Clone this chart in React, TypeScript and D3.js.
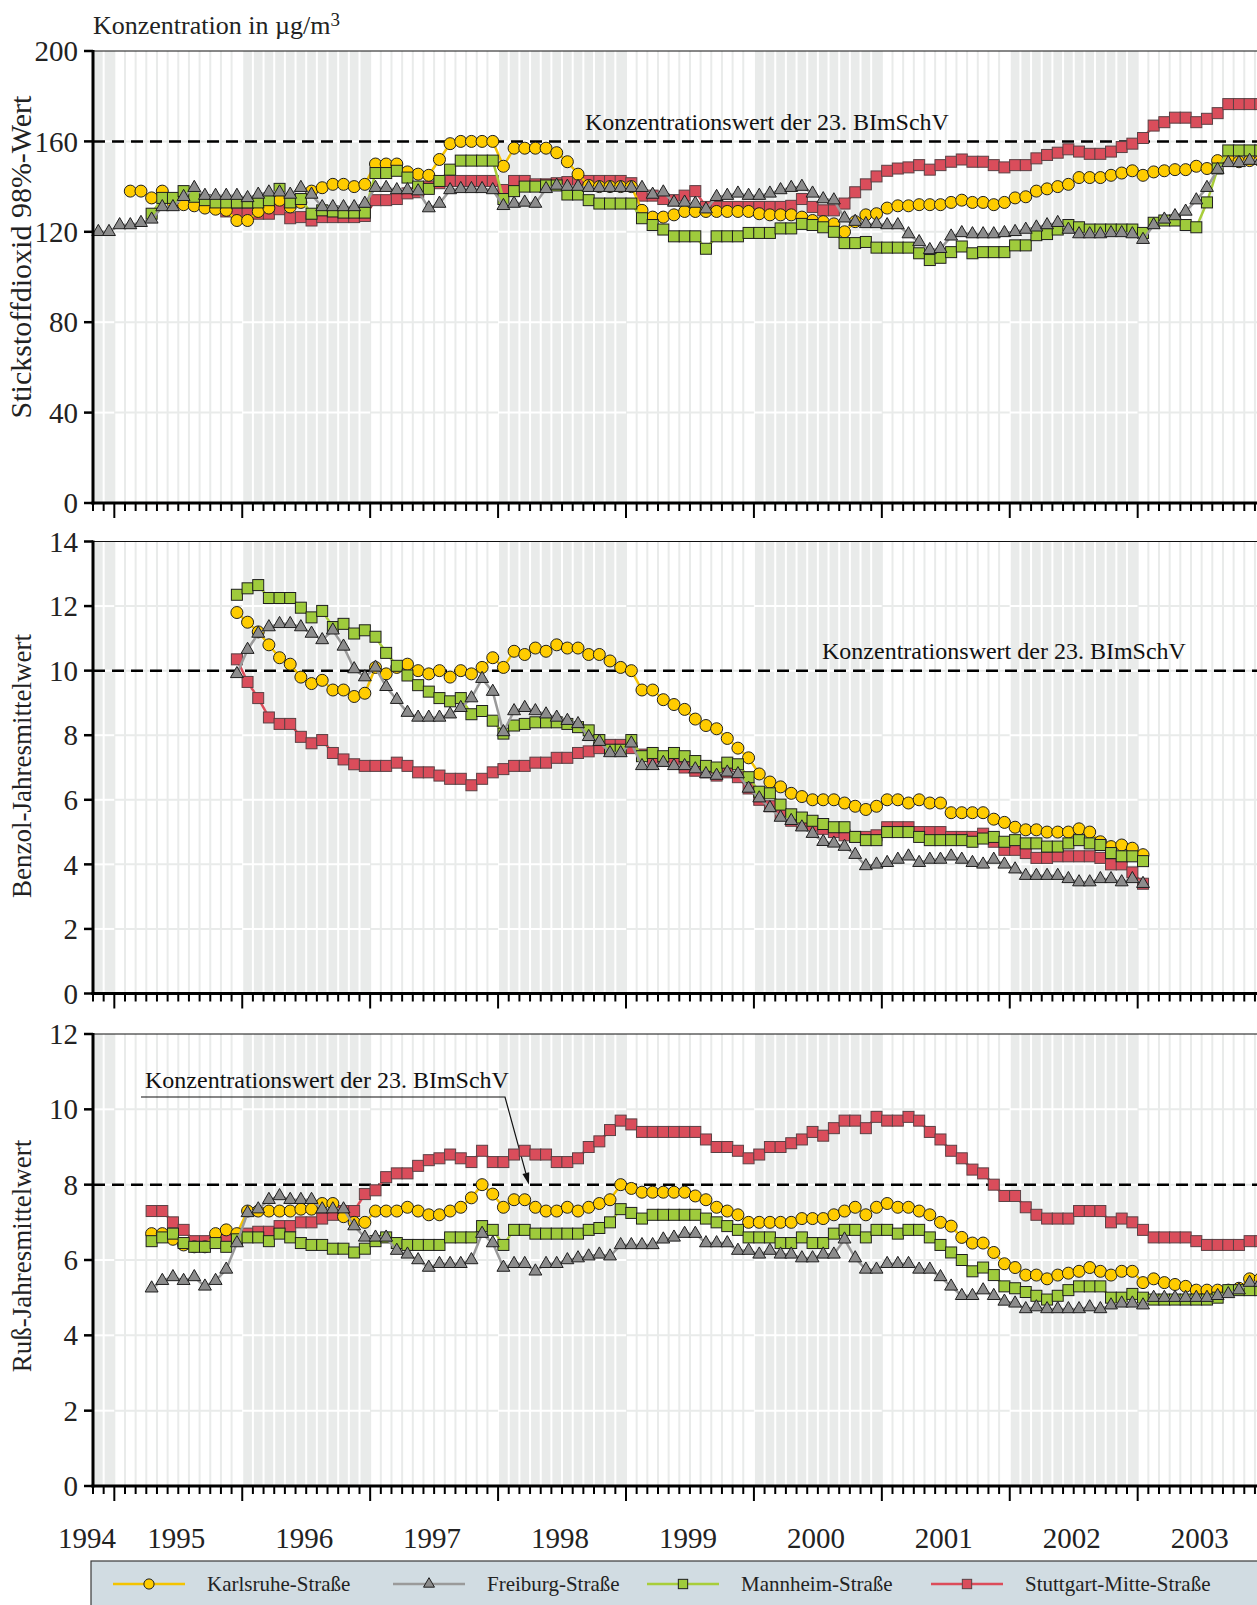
import React from "react";
import * as d3 from "d3";

const FONT = "'Liberation Serif', 'Times New Roman', Times, serif";

// one column per month, index 0 = November 1994
const monthCount = 110;
const yearLabels = ["1994", "1995", "1996", "1997", "1998", "1999", "2000", "2001", "2002", "2003"];

const stations = ["Karlsruhe-Straße", "Freiburg-Straße", "Mannheim-Straße", "Stuttgart-Mitte-Straße"];
const stationFill = ["#ffcc00", "#8c8c8c", "#9fcb3c", "#da4d5b"];
const stationLine = ["#f4c300", "#9a9a9a", "#a8cd3a", "#dc4c5a"];
const stationStroke = ["#1e1e1e", "#1e1e1e", "#1e1e1e", "#5a4044"];
const stationShape = ["circle", "triangle", "square", "square"];
const drawOrder = [3, 0, 2, 1];

// Stickstoffdioxid 98%-Wert
const no2Karlsruhe = [
  null, null, null, 138, 138, 135, 138, 133, 132, 131.5,
  130.5, 130, 129.5, 125, 125, 129, 130.5, 134, 131, 133,
  138, 139.5, 141, 141, 140, 141, 150, 150, 150, 146.5,
  145.5, 145, 152, 159, 160, 160, 160, 160, 149, 157,
  157, 157, 157, 155, 151, 145.5, 140.5, 140, 140, 140,
  140, 129.5, 126.5, 126.5, 127.5, 129, 129, 129, 129, 129,
  129, 129, 128, 127.5, 127.5, 127.5, 126.5, 125, 124.5, 123.5,
  120, 124.5, 127.5, 128, 130.5, 131.5, 131.5, 132, 132, 132,
  133, 134, 133, 133, 132, 133, 135, 135.5, 138, 139,
  140, 141, 144, 144, 144, 145, 146, 147, 145, 146.5,
  147, 147.5, 147.5, 149, 148, 151.5, 152, 151, 151.5, 151.5,
];
const no2Freiburg = [
  120, 120, 123, 123, 124, 125.5, 131, 131, 135.5, 139.5,
  136, 136, 136, 136, 135, 136.5, 137.5, 137.5, 136.5, 139.5,
  136.5, 131, 131, 131, 131, 132.5, 139.5, 139.5, 138.5, 138.5,
  138, 130.5, 132.5, 138.5, 139, 139, 139, 138.5, 131.5, 132.5,
  133, 132.5, 139, 140.5, 140, 140, 139.5, 139.5, 139.5, 139.5,
  139.5, 139.5, 136.5, 137.5, 133, 133, 132.5, 130, 135.5, 136,
  137, 136, 136, 137, 138.5, 139.5, 140, 137, 134.5, 134,
  126, 124.5, 123.5, 123.5, 123, 123, 119, 115.5, 112, 112.5,
  118, 119.5, 119, 119, 119, 119.5, 120, 121, 122, 123,
  124, 121, 119, 119, 119, 119.5, 119.5, 119, 116.5, 123,
  125.5, 127, 129, 134, 139.5, 147.5, 150.5, 150.5, 151.5, 151.5,
];
const no2Mannheim = [
  null, null, null, null, null, 128, 135, 135, 138, 135.5,
  134, 133, 133, 133, 133, 133, 134, 139, 133, 134.5,
  128, 129.5, 129, 128.5, 128.5, 128.5, 146, 146, 147, 144,
  140, 139, 142.5, 147.5, 151.5, 151.5, 151.5, 151.5, 134.5, 138,
  140, 140, 140.5, 140.5, 136.5, 136.5, 134, 132.5, 132.5, 132.5,
  132.5, 126, 123, 121, 118, 118, 118, 112.5, 118, 118,
  118, 119.5, 119.5, 119.5, 121.5, 121.5, 123.5, 123, 122, 120,
  115, 115, 115.5, 113, 113, 113, 113, 110.5, 107.5, 108.5,
  111, 113.5, 110.5, 111, 111, 111, 114, 114, 118.5, 119,
  121, 123, 122, 121, 121, 121, 121, 121, 119.5, 124,
  125, 125, 123, 122, 133, 148, 156, 156, 156, 156,
];
const no2Stuttgart = [
  null, null, null, null, null, null, null, null, null, null,
  null, null, 129, 128, 128, 128, 128, 130, 126, 126.5,
  125, 126.5, 126.5, 126.5, 126.5, 127, 134, 134, 134.5, 137,
  137.5, 140, 141.5, 142.5, 142.5, 142.5, 142.5, 142.5, 138.5, 142.5,
  142.5, 141, 141, 141.5, 142, 142.5, 142.5, 142.5, 142.5, 142.5,
  141.5, 136, 136, 134.5, 134, 136, 138, 131, 131, 131,
  131, 131, 131, 131, 131, 131.5, 134.5, 131, 129.5, 129.5,
  132.5, 137.5, 141, 144.5, 147, 148, 148.5, 149.5, 147.5, 149.5,
  151, 152, 151, 151, 149.5, 148.5, 149.5, 149.5, 152.5, 154,
  155, 156.5, 155.5, 154.5, 154.5, 155.5, 157.5, 159, 161.5, 167,
  168.5, 170.5, 170.5, 168.5, 170, 172.5, 176.5, 176.5, 176.5, 176.5,
];

// Benzol-Jahresmittelwert
const benzolKarlsruhe = [
  null, null, null, null, null, null, null, null, null, null, null, null, null,
  11.8, 11.5, 11.2, 10.8, 10.4, 10.2, 9.8, 9.6, 9.7, 9.4,
  9.4, 9.2, 9.3, 10.1, 9.9, 10.1, 10.2, 10.0, 9.9, 10.0,
  9.8, 10.0, 9.9, 10.1, 10.4, 10.1, 10.6, 10.5, 10.7, 10.6,
  10.8, 10.7, 10.7, 10.5, 10.5, 10.3, 10.1, 10.0, 9.4, 9.4,
  9.1, 8.95, 8.8, 8.5, 8.3, 8.2, 7.9, 7.6, 7.3, 6.8,
  6.55, 6.4, 6.2, 6.1, 6.0, 6.0, 6.0, 5.9, 5.8, 5.7,
  5.8, 6.0, 6.0, 5.9, 6.0, 5.9, 5.9, 5.6, 5.6, 5.6,
  5.6, 5.4, 5.3, 5.15, 5.07, 5.07, 5.0, 5.0, 5.0, 5.1,
  5.0, 4.7, 4.55, 4.6, 4.5, 4.3,
];
const benzolFreiburg = [
  null, null, null, null, null, null, null, null, null, null, null, null, null,
  9.9, 10.65, 11.15, 11.35, 11.45, 11.45, 11.35, 11.15, 10.95, 11.25,
  10.75, 10.05, 9.8, 10.1, 9.5, 9.1, 8.7, 8.55, 8.55, 8.55,
  8.65, 8.85, 9.15, 9.75, 9.35, 8.1, 8.75, 8.85, 8.75, 8.65,
  8.55, 8.45, 8.35, 7.95, 7.8, 7.45, 7.45, 7.75, 7.05, 7.05,
  7.15, 7.05, 7.05, 6.95, 6.8, 6.75, 6.85, 6.8, 6.35, 6.05,
  5.75, 5.45, 5.35, 5.15, 4.95, 4.7, 4.65, 4.55, 4.3, 3.95,
  4.0, 4.05, 4.15, 4.25, 4.05, 4.15, 4.15, 4.25, 4.15, 4.05,
  4.0, 4.15, 4.0, 3.85, 3.65, 3.65, 3.65, 3.65, 3.55, 3.45,
  3.45, 3.55, 3.55, 3.45, 3.55, 3.4,
];
const benzolMannheim = [
  null, null, null, null, null, null, null, null, null, null, null, null, null,
  12.35, 12.55, 12.65, 12.25, 12.25, 12.25, 11.95, 11.65, 11.85, 11.35,
  11.45, 11.15, 11.25, 11.05, 10.55, 10.15, 9.85, 9.55, 9.35, 9.15,
  9.05, 9.15, 8.65, 8.75, 8.45, 8.05, 8.3, 8.35, 8.4, 8.4,
  8.4, 8.35, 8.25, 8.15, 7.85, 7.55, 7.55, 7.85, 7.35, 7.45,
  7.35, 7.45, 7.35, 7.2, 7.05, 7.0, 7.15, 7.1, 6.7, 6.25,
  6.2, 5.85, 5.55, 5.45, 5.35, 5.25, 5.15, 5.15, 4.85, 4.75,
  4.75, 5.0, 5.0, 5.0, 4.85, 4.75, 4.75, 4.75, 4.75, 4.7,
  4.8, 4.85, 4.7, 4.75, 4.65, 4.65, 4.55, 4.55, 4.65, 4.75,
  4.65, 4.6, 4.35, 4.25, 4.25, 4.1,
];
const benzolStuttgart = [
  null, null, null, null, null, null, null, null, null, null, null, null, null,
  10.35, 9.65, 9.15, 8.55, 8.35, 8.35, 7.95, 7.75, 7.85, 7.45,
  7.25, 7.1, 7.05, 7.05, 7.05, 7.15, 7.05, 6.85, 6.85, 6.75,
  6.65, 6.65, 6.45, 6.65, 6.85, 6.95, 7.05, 7.05, 7.15, 7.15,
  7.3, 7.3, 7.45, 7.5, 7.6, 7.7, 7.7, 7.6, 7.4, 7.25,
  7.2, 7.2, 7.0, 6.9, 6.85, 6.75, 6.85, 6.7, 6.35, 6.0,
  5.8, 5.55, 5.35, 5.25, 5.2, 5.1, 5.0, 4.9, 4.85, 4.85,
  4.9, 5.15, 5.15, 5.15, 5.0, 5.0, 5.0, 4.85, 4.85, 4.85,
  4.95, 4.7, 4.45, 4.45, 4.35, 4.2, 4.2, 4.25, 4.25, 4.25,
  4.25, 4.2, 4.0, 4.0, 3.75, 3.4,
];

// Ruß-Jahresmittelwert
const russKarlsruhe = [
  null, null, null, null, null,
  6.7, 6.7, 6.55, 6.4, 6.35, 6.35, 6.7, 6.8, 6.7, 7.3,
  7.3, 7.3, 7.3, 7.3, 7.35, 7.35, 7.5, 7.5, 7.15, 7.0,
  7.0, 7.3, 7.3, 7.3, 7.4, 7.3, 7.2, 7.2, 7.3, 7.4,
  7.65, 8.0, 7.75, 7.4, 7.6, 7.6, 7.4, 7.3, 7.3, 7.4,
  7.3, 7.4, 7.5, 7.6, 8.0, 7.9, 7.8, 7.8, 7.8, 7.8,
  7.8, 7.7, 7.6, 7.4, 7.3, 7.2, 7.0, 7.0, 7.0, 7.0,
  7.0, 7.1, 7.1, 7.1, 7.2, 7.3, 7.4, 7.2, 7.4, 7.5,
  7.4, 7.4, 7.3, 7.2, 7.0, 6.9, 6.6, 6.45, 6.45, 6.2,
  5.9, 5.8, 5.6, 5.6, 5.5, 5.6, 5.65, 5.7, 5.8, 5.7,
  5.6, 5.7, 5.7, 5.4, 5.5, 5.4, 5.35, 5.3, 5.2, 5.2,
  5.2, 5.2, 5.25, 5.5, 5.5,
];
const russFreiburg = [
  null, null, null, null, null,
  5.25, 5.45, 5.55, 5.45, 5.55, 5.3, 5.45, 5.75, 6.45, 7.25,
  7.35, 7.6, 7.7, 7.6, 7.6, 7.6, 7.35, 7.35, 7.35, 6.9,
  6.6, 6.6, 6.6, 6.25, 6.15, 6.0, 5.8, 5.9, 5.9, 5.9,
  6.0, 6.7, 6.45, 5.8, 5.9, 5.9, 5.7, 5.9, 5.9, 6.0,
  6.05, 6.1, 6.15, 6.1, 6.4, 6.4, 6.4, 6.4, 6.55, 6.6,
  6.7, 6.7, 6.45, 6.45, 6.45, 6.25, 6.25, 6.15, 6.25, 6.15,
  6.15, 6.05, 6.05, 6.15, 6.15, 6.55, 6.05, 5.75, 5.75, 5.9,
  5.9, 5.9, 5.75, 5.75, 5.55, 5.3, 5.05, 5.05, 5.2, 5.05,
  4.9, 4.85, 4.7, 4.75, 4.7, 4.7, 4.7, 4.7, 4.75, 4.7,
  4.8, 4.85, 4.85, 4.8, 5.0, 5.0, 5.0, 5.0, 5.0, 5.0,
  5.05, 5.1, 5.2, 5.4, 5.4,
];
const russMannheim = [
  null, null, null, null, null,
  6.5, 6.6, 6.7, 6.45, 6.35, 6.35, 6.45, 6.35, 6.55, 6.6,
  6.6, 6.5, 6.7, 6.6, 6.45, 6.4, 6.4, 6.3, 6.3, 6.2,
  6.3, 6.5, 6.6, 6.45, 6.4, 6.4, 6.4, 6.4, 6.6, 6.6,
  6.6, 6.9, 6.8, 6.4, 6.8, 6.8, 6.7, 6.7, 6.7, 6.7,
  6.7, 6.8, 6.85, 7.0, 7.35, 7.25, 7.1, 7.2, 7.2, 7.2,
  7.2, 7.2, 7.1, 7.0, 6.9, 6.8, 6.6, 6.6, 6.6, 6.45,
  6.45, 6.6, 6.45, 6.45, 6.7, 6.8, 6.8, 6.6, 6.8, 6.8,
  6.7, 6.8, 6.8, 6.6, 6.4, 6.2, 6.0, 5.7, 5.8, 5.6,
  5.3, 5.25, 5.15, 5.05, 4.95, 5.05, 5.2, 5.3, 5.3, 5.3,
  5.0, 5.0, 5.1, 5.0, 4.95, 4.95, 4.95, 4.95, 4.95, 4.95,
  5.0, 5.2, 5.2, 5.2, 5.2,
];
const russStuttgart = [
  null, null, null, null, null,
  7.3, 7.3, 7.0, 6.8, 6.5, 6.5, 6.5, 6.55, 6.6, 6.7,
  6.75, 6.75, 6.9, 6.9, 7.0, 7.0, 7.1, 7.2, 7.3, 7.3,
  7.75, 7.85, 8.2, 8.3, 8.3, 8.5, 8.65, 8.7, 8.8, 8.7,
  8.6, 8.9, 8.6, 8.6, 8.8, 8.9, 8.8, 8.8, 8.6, 8.6,
  8.7, 9.0, 9.15, 9.45, 9.7, 9.6, 9.4, 9.4, 9.4, 9.4,
  9.4, 9.4, 9.2, 9.0, 9.0, 8.9, 8.7, 8.8, 9.0, 9.0,
  9.1, 9.2, 9.4, 9.3, 9.5, 9.7, 9.7, 9.5, 9.8, 9.7,
  9.7, 9.8, 9.7, 9.4, 9.2, 8.9, 8.7, 8.4, 8.3, 8.0,
  7.7, 7.7, 7.4, 7.2, 7.1, 7.1, 7.1, 7.3, 7.3, 7.3,
  7.0, 7.1, 7.0, 6.8, 6.6, 6.6, 6.6, 6.6, 6.5, 6.4,
  6.4, 6.4, 6.4, 6.5, 6.5,
];

const W = 1257;
const H = 1605;
const panelH = 452;
const x = d3.scaleLinear().domain([0, monthCount]).range([93, 93 + monthCount * 10.66]);

const yearOf = (m: number) => 1994 + Math.floor((m + 10) / 12);
const yearStart = (yr: number) => Math.max(0, 2 + 12 * (yr - 1995));

function Marker({ k, cx, cy, scale = 1 }: { k: number; cx: number; cy: number; scale?: number }) {
  const shape = stationShape[k];
  if (shape === "circle") {
    return <circle cx={cx} cy={cy} r={6 * scale} fill={stationFill[k]} stroke={stationStroke[k]} strokeWidth={1} />;
  }
  if (shape === "square") {
    const s = 11 * scale;
    return <rect x={cx - s / 2} y={cy - s / 2} width={s} height={s} fill={stationFill[k]} stroke={stationStroke[k]} strokeWidth={1} />;
  }
  const p = d3.symbol().type(d3.symbolTriangle).size(72 * scale * scale)() as string;
  return <path d={p} transform={`translate(${cx},${cy})`} fill={stationFill[k]} stroke={stationStroke[k]} strokeWidth={1} />;
}

function Panel(props: {
  top: number; max: number; step: number; limit: number;
  data: (number | null)[][]; title: string; titleY: number; titleSize: number;
  labelX: number; labelDy: number; annotate?: boolean; years?: boolean;
}) {
  const { top, max, step, limit, data, title, titleY, titleSize, labelX, labelDy, annotate, years } = props;
  const bottom = top + panelH;
  const y = d3.scaleLinear().domain([0, max]).range([bottom, top]);
  const ticks = d3.range(0, max + step / 2, step);
  const yearList = d3.range(1994, 2004);
  const line = d3.line<number | null>()
    .defined((d) => d !== null)
    .x((d, i) => x(i + 0.5))
    .y((d) => y(d as number));

  const tipY = y(limit);
  const ax = 505, ay = top + 63;
  const ang = Math.atan2(tipY - ay, 529 - ax);
  const head = [
    [529, tipY],
    [529 - 12 * Math.cos(ang) + 3.5 * Math.sin(ang), tipY - 12 * Math.sin(ang) - 3.5 * Math.cos(ang)],
    [529 - 12 * Math.cos(ang) - 3.5 * Math.sin(ang), tipY - 12 * Math.sin(ang) + 3.5 * Math.cos(ang)],
  ];

  return (
    <g>
      {/* alternating year bands */}
      {yearList.map((yr) => {
        const a = x(yearStart(yr));
        const b = x(Math.min(monthCount, yearStart(yr + 1)));
        return yr % 2 === 0 ? <rect key={yr} x={a} y={top} width={b - a} height={panelH} fill="#e9ebea" /> : null;
      })}
      {/* month lines */}
      {d3.range(1, monthCount).map((m) => (
        <line key={m} x1={x(m)} x2={x(m)} y1={top} y2={bottom}
          stroke={yearOf(m) % 2 === 0 ? "#ffffff" : "#e9ebea"} strokeWidth={2} />
      ))}
      {/* horizontal grid */}
      {ticks.slice(1, -1).map((t) =>
        yearList.map((yr) => {
          const a = x(yearStart(yr));
          const b = x(Math.min(monthCount, yearStart(yr + 1)));
          return <line key={`${t}-${yr}`} x1={a} x2={b} y1={y(t)} y2={y(t)}
            stroke={yr % 2 === 0 ? "#ffffff" : "#e9ebea"} strokeWidth={2} />;
        })
      )}
      {/* limit value */}
      <line x1={93} x2={W} y1={y(limit)} y2={y(limit)} stroke="#000" strokeWidth={2.5} strokeDasharray="12 7" />
      <text x={labelX} y={y(limit) + labelDy} fontFamily={FONT} fontSize={24} fill="#111">
        Konzentrationswert der 23. BImSchV
      </text>
      {annotate && (
        <g>
          <polyline points={`141,${ay} ${ax},${ay} ${head[1][0] / 2 + head[2][0] / 2},${head[1][1] / 2 + head[2][1] / 2}`}
            fill="none" stroke="#111" strokeWidth={1.2} />
          <polygon points={head.map((p) => p.join(",")).join(" ")} fill="#111" />
        </g>
      )}
      {/* series */}
      {drawOrder.map((k) => (
        <g key={k}>
          <path d={line(data[k]) as string} fill="none" stroke={stationLine[k]} strokeWidth={2.5} />
          {data[k].map((v, i) =>
            v === null ? null : <Marker key={i} k={k} cx={x(i + 0.5)} cy={y(v)} />
          )}
        </g>
      ))}
      {/* frame and axes */}
      <line x1={93} x2={W} y1={top} y2={top} stroke="#111" strokeWidth={1} />
      <line x1={93} x2={93} y1={top - 1} y2={bottom + 1.5} stroke="#000" strokeWidth={3} />
      <line x1={91.5} x2={W} y1={bottom} y2={bottom} stroke="#000" strokeWidth={3} />
      {ticks.map((t) => (
        <g key={t}>
          <line x1={84} x2={93} y1={y(t)} y2={y(t)} stroke="#000" strokeWidth={2.5} />
          <text x={78} y={y(t)} dy="0.35em" textAnchor="end" fontFamily={FONT} fontSize={29} fill="#222">{t}</text>
        </g>
      ))}
      {d3.range(0, monthCount + 1).filter((m) => x(m) <= W + 1).map((m) => {
        const major = (m + 10) % 12 === 0;
        return <line key={m} x1={x(m)} x2={x(m)} y1={bottom} y2={bottom + (major ? 15 : 8)} stroke="#000" strokeWidth={2} />;
      })}
      <text transform={`translate(31,${titleY}) rotate(-90)`} textAnchor="middle" fontFamily={FONT} fontSize={titleSize} fill="#222">
        {title}
      </text>
      {years && yearLabels.map((lab, i) => {
        const cx = i === 0 ? 87 : x(yearStart(1994 + i) + 6) - 2;
        return <text key={lab} x={cx} y={bottom + 62} textAnchor="middle" fontFamily={FONT} fontSize={29} fill="#222">{lab}</text>;
      })}
    </g>
  );
}

const legendX = [149, 429, 683, 967];

export default function App() {
  return (
    <svg width={W} height={H} viewBox={`0 0 ${W} ${H}`} style={{ position: "absolute", left: 0, top: 0, background: "#fff" }}>
      <text x={93} y={34} fontFamily={FONT} fontSize={26} fill="#222">
        Konzentration in µg/m<tspan fontSize={19} dy={-8}>3</tspan>
      </text>
      <Panel top={51} max={200} step={40} limit={160}
        data={[no2Karlsruhe, no2Freiburg, no2Mannheim, no2Stuttgart]}
        title="Stickstoffdioxid 98%-Wert" titleY={257} titleSize={30} labelX={585} labelDy={-11} />
      <Panel top={541.5} max={14} step={2} limit={10}
        data={[benzolKarlsruhe, benzolFreiburg, benzolMannheim, benzolStuttgart]}
        title="Benzol-Jahresmittelwert" titleY={766} titleSize={27} labelX={822} labelDy={-12} />
      <Panel top={1034} max={12} step={2} limit={8}
        data={[russKarlsruhe, russFreiburg, russMannheim, russStuttgart]}
        title="Ruß-Jahresmittelwert" titleY={1256} titleSize={27} labelX={145} labelDy={-97} annotate years />
      {/* legend */}
      <rect x={91} y={1561} width={1200} height={60} fill="#d1dce2" stroke="#3a3a3a" strokeWidth={1.2} />
      {stations.map((s, k) => (
        <g key={s}>
          <line x1={legendX[k] - 36} x2={legendX[k] + 36} y1={1584} y2={1584} stroke={stationLine[k]} strokeWidth={2.5} />
          <Marker k={k} cx={legendX[k]} cy={1584} scale={0.85} />
          <text x={legendX[k] + 58} y={1584} dy="0.35em" fontFamily={FONT} fontSize={21} fill="#222">{s}</text>
        </g>
      ))}
    </svg>
  );
}
